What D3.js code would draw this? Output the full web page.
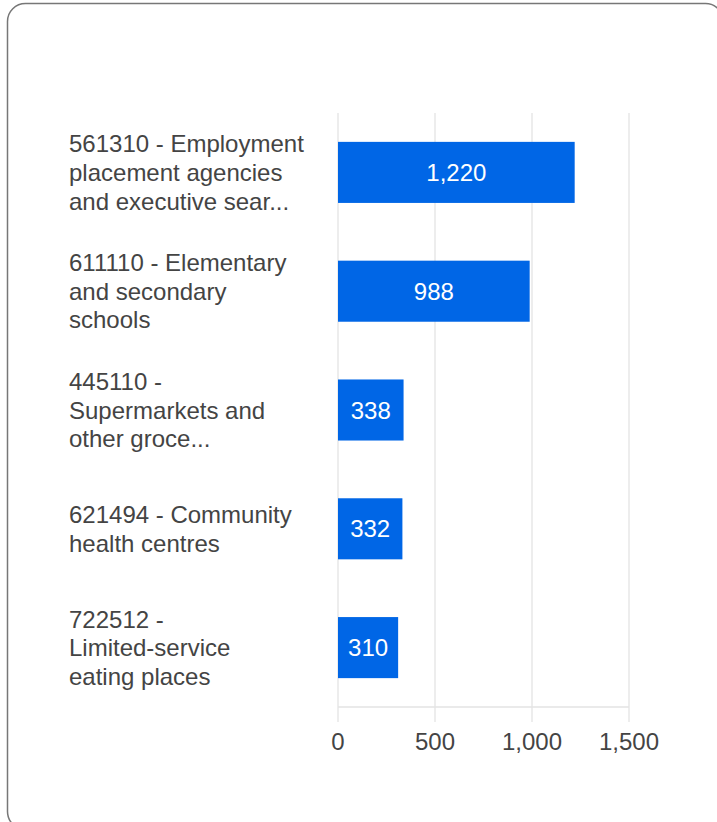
<!DOCTYPE html>
<html>
<head>
<meta charset="utf-8">
<script src="https://cdn.jsdelivr.net/npm/d3@7"></script>
<style>
  html, body { margin: 0; padding: 0; background: #fff; }
  svg { display: block; font-family: "Liberation Sans", Arial, sans-serif; }
</style>
</head>
<body>
<svg id="chart" width="717" height="822"></svg>
<script>
// categories (as wrapped on the chart) and values
var categories = [
  ["561310 - Employment", "placement agencies", "and executive sear..."],
  ["611110 - Elementary", "and secondary", "schools"],
  ["445110 -", "Supermarkets and", "other groce..."],
  ["621494 - Community", "health centres"],
  ["722512 -", "Limited-service", "eating places"]
];
var values = [1220, 988, 338, 332, 310];
var xTicks = [0, 500, 1000, 1500];

var svg = d3.select("#chart");

// card
svg.append("rect")
  .attr("x", 7.5).attr("y", 3.5)
  .attr("width", 716).attr("height", 826)
  .attr("rx", 18).attr("ry", 18)
  .attr("fill", "#fff")
  .attr("stroke", "#777")
  .attr("stroke-width", 1.5);

var areaLeft = 338, areaRight = 629, areaTop = 113, areaBottom = 707;

var x = d3.scaleLinear().domain([0, 1500]).range([areaLeft, areaRight]);
var y = d3.scaleBand().domain(d3.range(values.length)).range([areaTop, areaBottom]).paddingInner(0.486).paddingOuter(0.243);

var fmt = d3.format(",");

// gridlines
svg.append("g").selectAll("line")
  .data(xTicks)
  .enter().append("line")
  .attr("x1", function(d) { return x(d); })
  .attr("x2", function(d) { return x(d); })
  .attr("y1", areaTop)
  .attr("y2", areaBottom + 15)
  .attr("stroke", "#e3e3e3")
  .attr("stroke-width", 1.3);

svg.append("line")
  .attr("x1", areaLeft).attr("x2", areaRight)
  .attr("y1", areaBottom).attr("y2", areaBottom)
  .attr("stroke", "#e3e3e3")
  .attr("stroke-width", 1.3);

// tick labels
svg.append("g").selectAll("text")
  .data(xTicks)
  .enter().append("text")
  .attr("x", function(d) { return x(d); })
  .attr("y", 750)
  .attr("text-anchor", "middle")
  .attr("font-size", 24)
  .attr("fill", "#444")
  .text(function(d) { return fmt(d); });

// bars
svg.append("g").selectAll("rect")
  .data(values)
  .enter().append("rect")
  .attr("x", x(0))
  .attr("y", function(d, i) { return y(i); })
  .attr("width", function(d) { return x(d) - x(0); })
  .attr("height", y.bandwidth())
  .attr("fill", "#0066e6");

// bar labels
svg.append("g").selectAll("text")
  .data(values)
  .enter().append("text")
  .attr("x", function(d) { return (x(d) + x(0)) / 2; })
  .attr("y", function(d, i) { return y(i) + y.bandwidth() / 2 + 8.5; })
  .attr("text-anchor", "middle")
  .attr("font-size", 24)
  .attr("fill", "#fff")
  .text(function(d) { return fmt(d); });

// category labels
var lineH = 28.6;
var lab = svg.append("g").selectAll("text")
  .data(categories)
  .enter().append("text")
  .attr("font-size", 24)
  .attr("fill", "#444");

lab.each(function(lines, i) {
  var cy = y(i) + y.bandwidth() / 2;
  var y0 = cy - (lines.length - 1) * lineH / 2 + 8.5;
  d3.select(this).selectAll("tspan")
    .data(lines)
    .enter().append("tspan")
    .attr("x", 69)
    .attr("y", function(d, j) { return y0 + j * lineH; })
    .text(function(d) { return d; });
});
</script>
</body>
</html>
